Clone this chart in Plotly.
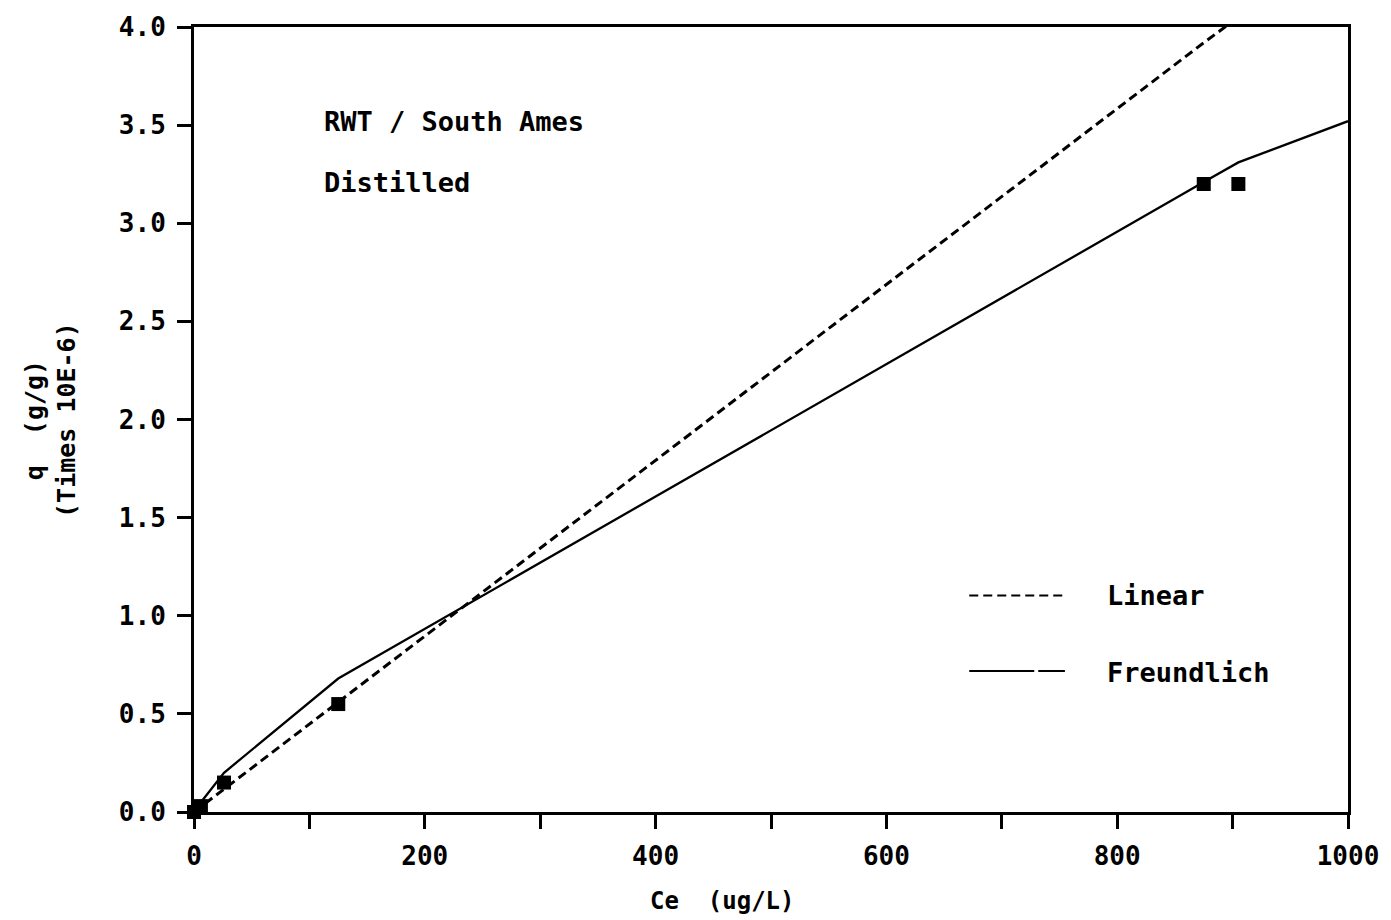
import plotly.graph_objects as go

# Data
ce_obs = [0, 6, 26, 125, 875, 905]
q_obs = [0.0, 0.03, 0.15, 0.55, 3.20, 3.20]

ce_lin = [0, 6, 26, 125, 875, 905]
q_lin = [0.0, 0.027, 0.116, 0.56, 3.92, 4.05]

ce_fr = [0, 6, 26, 125, 875, 905, 1000]
q_fr = [0.0, 0.05, 0.20, 0.68, 3.21, 3.31, 3.52]

x_ticks = [0, 200, 400, 600, 800, 1000]
y_ticks = [0.0, 0.5, 1.0, 1.5, 2.0, 2.5, 3.0, 3.5, 4.0]

FONT = "DejaVu Sans Mono"
fig = go.Figure()

fig.add_trace(go.Scatter(x=ce_lin, y=q_lin, mode="lines", name="Linear",
                         line=dict(color="black", width=3, dash="9px,5px"),
                         showlegend=False))
fig.add_trace(go.Scatter(x=ce_fr, y=q_fr, mode="lines", name="Freundlich",
                         line=dict(color="black", width=2.3),
                         showlegend=False))
fig.add_trace(go.Scatter(x=ce_obs, y=q_obs, mode="markers", name="Data",
                         marker=dict(symbol="square", size=14, color="black"),
                         cliponaxis=False, showlegend=False))

axis_common = dict(showgrid=False, zeroline=False, showline=True, linecolor="black",
                   linewidth=3, mirror=True, ticks="outside", ticklen=14,
                   tickwidth=2.5, tickcolor="black",
                   tickfont=dict(family=FONT, size=26, color="black", weight="bold"))

fig.update_xaxes(range=[0, 1000], tickmode="array", tickvals=list(range(0, 1001, 100)),
                 ticktext=[str(v) if v in x_ticks else "" for v in range(0, 1001, 100)],
                 ticklabelstandoff=5, **axis_common)
fig.update_yaxes(range=[0, 4.0], tickmode="array", tickvals=y_ticks,
                 ticktext=[f"{v:.1f}" for v in y_ticks], ticklabelstandoff=6,
                 **axis_common)

ann_font = dict(family=FONT, size=27, color="black", weight="bold")
annotations = [
    dict(text="RWT / South Ames", x=0.1105, y=0.8797, xref="paper", yref="paper",
         xanchor="left", yanchor="middle", showarrow=False, font=ann_font),
    dict(text="Distilled", x=0.1105, y=0.8025, xref="paper", yref="paper",
         xanchor="left", yanchor="middle", showarrow=False, font=ann_font),
    dict(text="Linear", x=0.7893, y=0.2759, xref="paper", yref="paper",
         xanchor="left", yanchor="middle", showarrow=False, font=ann_font),
    dict(text="Freundlich", x=0.7893, y=0.1772, xref="paper", yref="paper",
         xanchor="left", yanchor="middle", showarrow=False, font=ann_font),
    dict(text="Ce  (ug/L)", x=0.4577, y=-0.114, xref="paper", yref="paper",
         xanchor="center", yanchor="middle", showarrow=False,
         font=dict(family=FONT, size=24, color="black", weight="bold")),
    dict(text="q  (g/g)<br>(Times 10E-6)", x=-0.1244, y=0.5, xref="paper", yref="paper",
         xanchor="center", yanchor="middle", textangle=-90, showarrow=False,
         font=dict(family=FONT, size=25, color="black", weight="bold")),
]

shapes = [
    dict(type="line", xref="paper", yref="paper", x0=0.6718, x1=0.7547, y0=0.2759, y1=0.2759,
         line=dict(color="black", width=2, dash="9px,5px")),
    dict(type="line", xref="paper", yref="paper", x0=0.6718, x1=0.7547, y0=0.1797, y1=0.1797,
         line=dict(color="black", width=2, dash="65px,4px,30px,200px")),
]

fig.update_layout(width=1391, height=920, margin=dict(l=194, r=39, t=22, b=108),
                  plot_bgcolor="white", paper_bgcolor="white",
                  annotations=annotations, shapes=shapes)

fig.write_html("out.html")
